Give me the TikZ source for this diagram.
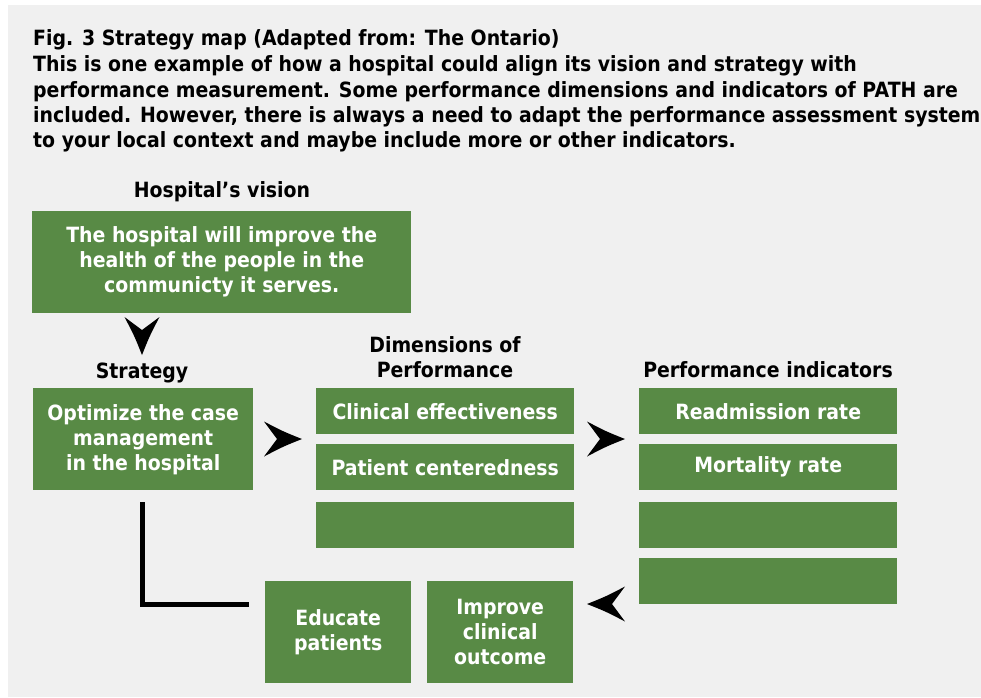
\documentclass[tikz,border=0pt]{standalone}
\usepackage{fontspec}
\setmainfont{DejaVu Sans}[FakeStretch=0.9]
\definecolor{panel}{RGB}{240,240,240}
\definecolor{boxgreen}{RGB}{88,138,69}
\tikzset{
  titletxt/.style={anchor=base west, inner sep=0, font=\bfseries\fontsize{21}{25.5}\selectfont, text=black},
  headtxt/.style={anchor=base, inner sep=0, font=\bfseries\fontsize{21}{25}\selectfont, text=black},
  gbox/.style={anchor=north west, inner sep=0, fill=boxgreen, text=white, align=center,
               font=\bfseries\fontsize{21}{25}\selectfont},
  wide/.style={gbox, minimum width=258, minimum height=46},
  tall/.style={gbox, minimum width=146, minimum height=102},
  chev/.pic={\fill[black] (0,0) .. controls (-19,-7.6) .. (-38,-17.5)
        .. controls (-31,-8) .. (-25,0) .. controls (-31,8) .. (-38,17.5)
        .. controls (-19,7.6) .. (0,0) -- cycle;},
  elbow/.style={draw=black, line width=5, line cap=butt, line join=miter}
}
\begin{document}
\begin{tikzpicture}[x=1pt,y=-1pt]
\useasboundingbox (0,0) rectangle (981,697);
\fill[white] (0,0) rectangle (981,697);
\fill[panel] (8,5) rectangle (981,697);
% title
\node[titletxt] (t1) at (33,45) {Fig. 3 Strategy map (Adapted from: The Ontario)};
\node[titletxt] (t2) at (33,71) {This is one example of how a hospital could align its vision and strategy with};
\node[titletxt] (t3) at (33,97) {performance measurement. Some performance dimensions and indicators of PATH are};
\node[titletxt] (t4) at (33,122) {included. However, there is always a need to adapt the performance assessment system};
\node[titletxt] (t5) at (33,147) {to your local context and maybe include more or other indicators.};
% headers
\node[headtxt] (hv) at (222,197) {Hospital’s vision};
\node[headtxt] (hs) at (142,378) {Strategy};
\node[headtxt] (hd1) at (445,352) {Dimensions of};
\node[headtxt] (hd2) at (445,377) {Performance};
\node[headtxt] (hp) at (768,377) {Performance indicators};
% boxes
\node[gbox, minimum width=379, minimum height=102] (vision) at (32,211)
  {The hospital will improve the\\health of the people in the\\communicty it serves.};
\node[gbox, minimum width=220, minimum height=102] (strat) at (33,388)
  {Optimize the case\\management\\in the hospital};
\node[wide] (dim1) at (316,388) {Clinical effectiveness};
\node[wide] (dim2) at (316,444) {Patient centeredness};
\node[wide] (dim3) at (316,502) {};
\node[wide] (ind1) at (639,388) {Readmission rate};
\node[wide] (ind2) at (639,444) {Mortality rate};
\node[wide] (ind3) at (639,502) {};
\node[wide] (ind4) at (639,558) {};
\node[tall] (edu) at (265,581) {Educate\\patients};
\node[tall] (imp) at (427,581) {Improve\\clinical\\outcome};
% arrowheads
\coordinate (a1) at (142,355);
\coordinate (a2) at (302,439);
\coordinate (a3) at (625,439);
\coordinate (a4) at (587,604);
\pic[rotate=-90] at (a1) {chev};
\pic at (a2) {chev};
\pic at (a3) {chev};
\pic[rotate=180] at (a4) {chev};
% elbow line
\coordinate (l1) at (142.5,502);
\coordinate (l2) at (249,604.5);
\draw[elbow] (l1) |- (l2);
\end{tikzpicture}
\end{document}
